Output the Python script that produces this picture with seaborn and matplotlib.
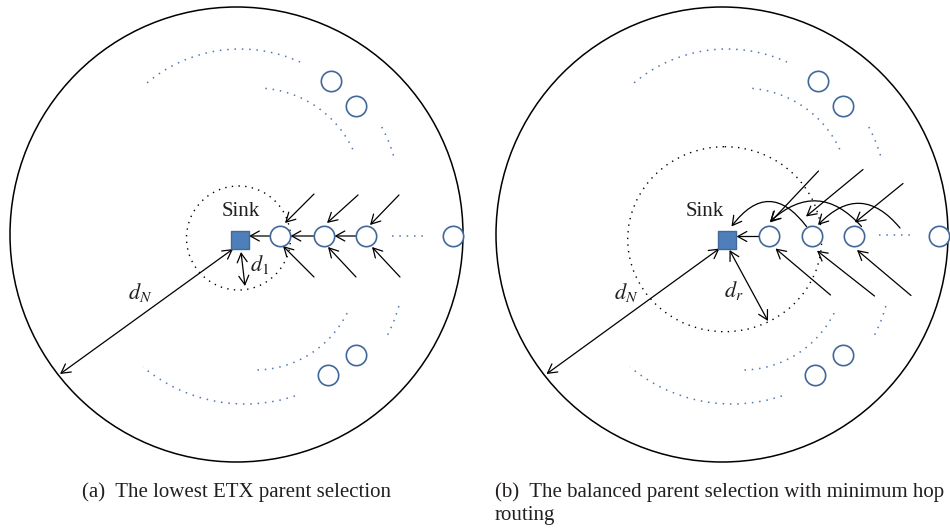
import pandas as pd
import matplotlib.pyplot as plt
import seaborn as sns
from matplotlib.patches import Ellipse, Arc

# All coordinates are pixels of the 950x531 figure, y grows downward.

# --- nodes ---
sink_x = [240, 727]
sink_y = [239.5, 240]

chain_x_a = [280, 324, 366, 453]
chain_x_b = [769, 812, 854, 939]
chain_y = 236

side_x_a = [331, 356, 356, 328]
side_y = [81, 106, 355, 375]
SHIFT_B = 487  # background of panel (b) = panel (a) moved right

# --- dotted blue arcs (panel a): centre x, centre y, radius, start/end angle ---
arc_cx = [240, 256, 256, 245, 255, 255]
arc_cy = [193.5, 195, 195, 245, 267, 267]
arc_r = [144.5, 107, 143, 159, 103, 149]
arc_t1 = [-130, -85, -28.4, 71.7, 26.6, 15.2]
arc_t2 = [-65.5, -24.4, -14.7, 129.9, 91.1, 27.6]

# --- big circles and the dotted rings round the sink: cx, cy, width, height ---
outer = [(236.5, 234.5, 453, 455), (722, 234.5, 452, 455)]
inner = [(238.5, 238, 104, 104), (724.7, 239.2, 194, 185)]
chain_dots = [(392, 427, 236), (879, 913, 235)]

# --- arrows: (x0, y0, x1, y1), drawn from 0 to 1 ---
arrows_a = [
    (269.5, 236, 249, 236), (313.5, 236, 290.5, 236), (355.5, 236, 334.5, 236),
    (314, 194, 285, 223), (358, 195, 327, 223), (399, 195, 370, 225),
    (314, 277, 283, 246), (356, 277, 328, 247), (400, 277, 372, 247),
]
arrows_b = [
    (759, 236.5, 736.5, 236.5),
    (818.5, 171, 770, 222.5), (863, 169.5, 806, 216.5), (903, 183.5, 855, 222.5),
    (830.5, 295, 775.5, 248.5), (874.5, 296, 817, 250.7), (911, 295.5, 857, 250),
]
curved_b = [
    (806.5, 226.5, 731.5, 226.5, 0.66),
    (861.5, 226.5, 770, 221.5, 0.5),
    (900, 228, 818, 225, 0.56),
]
double_arrows = [
    (233, 249, 60, 374), (241, 252, 245, 286),
    (719.5, 248.5, 546.5, 374), (729.5, 250, 768, 321),
]

labels = [
    ("Sink", 241, 211), (r"$d_1$", 260, 265), (r"$d_N$", 140, 293),
    ("Sink", 705, 212), (r"$d_r$", 734, 291), (r"$d_N$", 626, 292),
]
caption_a = "(a)  The lowest ETX parent selection"
caption_b = "(b)  The balanced parent selection with minimum hop\nrouting"

BLUE_EDGE = "#41689a"
BLUE_FILL = "#4f7fbb"
DOT_BLUE = "#5078b0"
TEXT = "#231f20"

sns.set_theme(style="white")
plt.rcParams["font.family"] = ["Liberation Serif", "DejaVu Serif"]
plt.rcParams["mathtext.fontset"] = "stix"

fig = plt.figure(figsize=(9.5, 5.31), dpi=100)
ax = fig.add_axes([0, 0, 1, 1])

dots = (0, (1, 3.8))

for shift in (0, SHIFT_B):
    for cx, cy, r, t1, t2 in zip(arc_cx, arc_cy, arc_r, arc_t1, arc_t2):
        ax.add_patch(Arc((cx + shift, cy), 2 * r, 2 * r, theta1=t1, theta2=t2,
                         color=DOT_BLUE, lw=1.1, linestyle=dots))

for cx, cy, w, h in outer:
    ax.add_patch(Ellipse((cx, cy), w, h, fill=False, ec="black", lw=1.1))
for cx, cy, w, h in inner:
    ax.add_patch(Ellipse((cx, cy), w, h, fill=False, ec="black", lw=1.0,
                         linestyle=dots))
for x0, x1, y in chain_dots:
    ax.plot([x0, x1], [y, y], color=DOT_BLUE, lw=1.1, linestyle=dots)


def arrow(x0, y0, x1, y1, style="->", rad=0.0):
    ax.annotate("", xy=(x1, y1), xytext=(x0, y0),
                arrowprops=dict(arrowstyle=style + ",head_length=0.65,head_width=0.36",
                                color="black", lw=0.9, shrinkA=0, shrinkB=0,
                                mutation_scale=10,
                                connectionstyle=f"arc3,rad={rad}"))


for a in arrows_a + arrows_b:
    arrow(*a)
for x0, y0, x1, y1, rad in curved_b:
    arrow(x0, y0, x1, y1, rad=rad)
for a in double_arrows:
    arrow(*a, style="<->")

nodes = pd.DataFrame({
    "x": chain_x_a + chain_x_b + side_x_a + [x + SHIFT_B for x in side_x_a],
    "y": [chain_y] * 8 + side_y * 2,
})
sinks = pd.DataFrame({"x": sink_x, "y": sink_y})

sns.scatterplot(data=nodes, x="x", y="y", ax=ax, marker="o", s=215,
                color="white", edgecolor=BLUE_EDGE, linewidth=1.2, zorder=4)
sns.scatterplot(data=sinks, x="x", y="y", ax=ax, marker="s", s=185,
                color=BLUE_FILL, edgecolor=BLUE_EDGE, linewidth=1.0, zorder=4)

for txt, x, y in labels:
    ax.text(x, y, txt, ha="center", va="center", fontsize=15 if txt == "Sink" else 16,
            color=TEXT)

ax.text(82, 482, caption_a, ha="left", va="top", fontsize=15, color=TEXT)
ax.text(495, 482, caption_b, ha="left", va="top", fontsize=15, color=TEXT,
        linespacing=1.3)

ax.set_xlim(0, 950)
ax.set_ylim(531, 0)
ax.axis("off")

fig.savefig("out.png", dpi=100)
